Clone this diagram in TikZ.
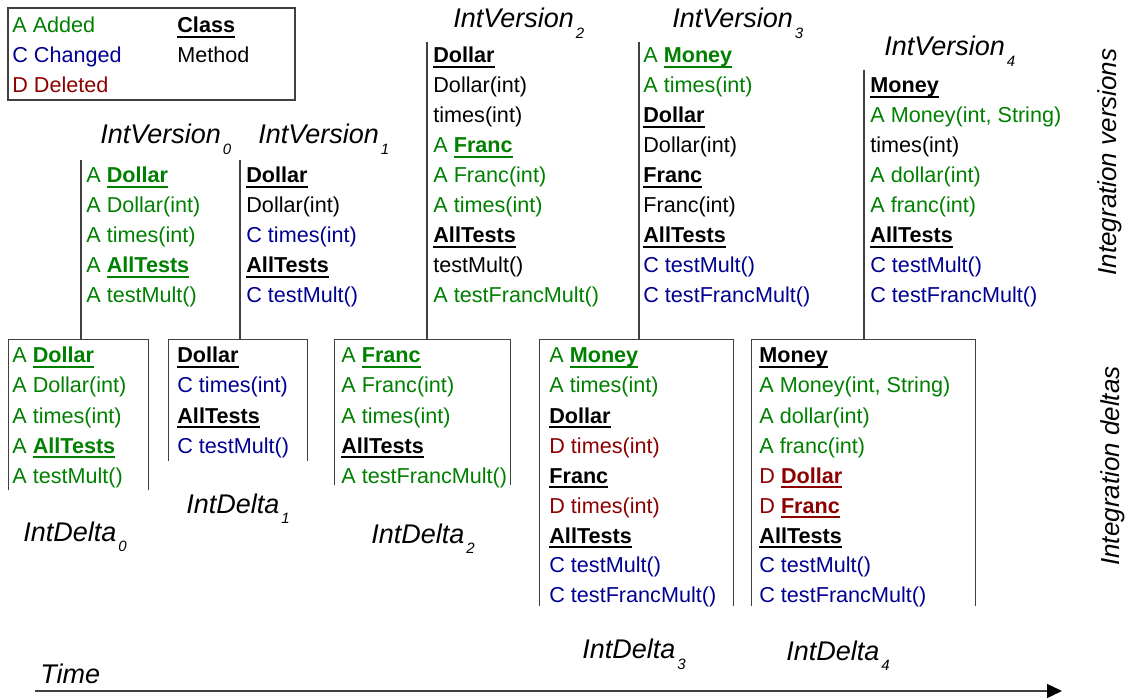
\documentclass[tikz,border=0pt]{standalone}
\usepackage{fontspec}
\setmainfont{Liberation Sans}
\usetikzlibrary{arrows.meta,fit}

\definecolor{addgreen}{RGB}{0,128,0}
\definecolor{chgblue}{RGB}{0,0,145}
\definecolor{delred}{RGB}{140,0,0}

\newcommand{\rowfont}{\fontsize{10.8}{12}\selectfont}
\newcommand{\clsn}[1]{\setbox0\hbox{\bfseries #1}\rlap{\rule[-2.4pt]{\wd0}{0.8pt}}\box0}
\newcommand{\addit}[1]{\textcolor{addgreen}{A\ #1}}
\newcommand{\chgit}[1]{\textcolor{chgblue}{C #1}}
\newcommand{\delit}[1]{\textcolor{delred}{D #1}}
\newcommand{\intlab}[2]{#1\hspace{1pt}\raisebox{-5.5pt}{\fontsize{7.5}{8}\selectfont #2}}

\begin{document}
\begin{tikzpicture}[x=0.5pt, y=-0.5pt,
	row/.style={anchor=base west, inner sep=0, font=\rowfont},
	frame/.style={draw=black!75, line width=0.7pt},
	lab/.style={anchor=base west, inner sep=0, font=\fontsize{13.5}{15}\selectfont\itshape},
	side/.style={inner sep=0, font=\fontsize{13}{15}\selectfont\itshape}]

\useasboundingbox (0,0) rectangle (1131,700);

% legend
\node[frame, fit={(8,8) (295,100)}, inner sep=0] (legend) {};
\node[row] (la) at (12,33) {\addit{Added}};
\node[row] (lc) at (12,63) {\chgit{Changed}};
\node[row] (ld) at (12,93) {\delit{Deleted}};
\node[row] (lcls) at (177,33) {\clsn{Class}};
\node[row] (lmeth) at (177,63) {Method};

% integration deltas
\node[fit={(9,340) (148,490)}, inner sep=0] (d0) {};
\node[fit={(169,340) (307,461)}, inner sep=0] (d1) {};
\node[fit={(335,340) (510,485)}, inner sep=0] (d2) {};
\node[fit={(540,340) (733,606)}, inner sep=0] (d3) {};
\node[fit={(752,340) (975,606)}, inner sep=0] (d4) {};
\foreach \d in {d0,d1,d2,d3,d4}{
	\draw[frame] (\d.south west) |- (\d.north east) -- (\d.south east);
}

\foreach [count=\i] \t in {
	\addit{\clsn{Dollar}}
	,\addit{Dollar(int)}
	,\addit{times(int)}
	,\addit{\clsn{AllTests}}
	,\addit{testMult()}
}{
	\node[row] (d0-\i) at (12,333+30*\i) {\t};
}

\foreach [count=\i] \t in {
	\clsn{Dollar}
	,\chgit{times(int)}
	,\clsn{AllTests}
	,\chgit{testMult()}
}{
	\node[row] (d1-\i) at (177,333+30*\i) {\t};
}

\foreach [count=\i] \t in {
	\addit{\clsn{Franc}}
	,\addit{Franc(int)}
	,\addit{times(int)}
	,\clsn{AllTests}
	,\addit{testFrancMult()}
}{
	\node[row] (d2-\i) at (341,333+30*\i) {\t};
}

\foreach [count=\i] \t in {
	\addit{\clsn{Money}}
	,\addit{times(int)}
	,\clsn{Dollar}
	,\delit{times(int)}
	,\clsn{Franc}
	,\delit{times(int)}
	,\clsn{AllTests}
	,\chgit{testMult()}
	,\chgit{testFrancMult()}
}{
	\node[row] (d3-\i) at (549,333+30*\i) {\t};
}

\foreach [count=\i] \t in {
	\clsn{Money}
	,{\addit{Money(int, String)}}
	,\addit{dollar(int)}
	,\addit{franc(int)}
	,\delit{\clsn{Dollar}}
	,\delit{\clsn{Franc}}
	,\clsn{AllTests}
	,\chgit{testMult()}
	,\chgit{testFrancMult()}
}{
	\node[row] (d4-\i) at (759,333+30*\i) {\t};
}

% integration versions
\coordinate (v0) at (81,160);
\coordinate (v1) at (240,160);
\coordinate (v2) at (427,42);
\coordinate (v3) at (639,42);
\coordinate (v4) at (864,70);
\foreach \v/\d in {v0/d0,v1/d1,v2/d2,v3/d3,v4/d4}{
	\draw[frame] (\v) -- (\v |- \d.north);
}

\foreach [count=\i] \t in {
	\addit{\clsn{Dollar}}
	,\addit{Dollar(int)}
	,\addit{times(int)}
	,\addit{\clsn{AllTests}}
	,\addit{testMult()}
}{
	\node[row] (v0-\i) at (86,153+30*\i) {\t};
}

\foreach [count=\i] \t in {
	\clsn{Dollar}
	,Dollar(int)
	,\chgit{times(int)}
	,\clsn{AllTests}
	,\chgit{testMult()}
}{
	\node[row] (v1-\i) at (246,153+30*\i) {\t};
}

\foreach [count=\i] \t in {
	\clsn{Dollar}
	,Dollar(int)
	,times(int)
	,\addit{\clsn{Franc}}
	,\addit{Franc(int)}
	,\addit{times(int)}
	,\clsn{AllTests}
	,testMult()
	,\addit{testFrancMult()}
}{
	\node[row] (v2-\i) at (433,33+30*\i) {\t};
}

\foreach [count=\i] \t in {
	\addit{\clsn{Money}}
	,\addit{times(int)}
	,\clsn{Dollar}
	,Dollar(int)
	,\clsn{Franc}
	,Franc(int)
	,\clsn{AllTests}
	,\chgit{testMult()}
	,\chgit{testFrancMult()}
}{
	\node[row] (v3-\i) at (643,33+30*\i) {\t};
}

\foreach [count=\i] \t in {
	\clsn{Money}
	,{\addit{Money(int, String)}}
	,times(int)
	,\addit{dollar(int)}
	,\addit{franc(int)}
	,\clsn{AllTests}
	,\chgit{testMult()}
	,\chgit{testFrancMult()}
}{
	\node[row] (v4-\i) at (870,63+30*\i) {\t};
}

% labels
\node[lab] (iv0) at (100,144) {\intlab{IntVersion}{0}};
\node[lab] (iv1) at (258,144) {\intlab{IntVersion}{1}};
\node[lab] (iv2) at (453,28) {\intlab{IntVersion}{2}};
\node[lab] (iv3) at (672,28) {\intlab{IntVersion}{3}};
\node[lab] (iv4) at (884,56) {\intlab{IntVersion}{4}};
\node[lab] (id0) at (23,541) {\intlab{IntDelta}{0}};
\node[lab] (id1) at (186,513) {\intlab{IntDelta}{1}};
\node[lab] (id2) at (371,543) {\intlab{IntDelta}{2}};
\node[lab] (id3) at (582,658) {\intlab{IntDelta}{3}};
\node[lab] (id4) at (786,660) {\intlab{IntDelta}{4}};

\node[side, rotate=90] (sidev) at (1110,162) {Integration versions};
\node[side, rotate=90] (sided) at (1113,466) {Integration deltas};

% time axis
\node[lab] (time) at (40,683) {Time};
\coordinate (t0) at (35,691);
\coordinate (t1) at (1062,691);
\draw[frame, -{Triangle[length=7.5pt,width=7pt,color=black]}] (t0) -- (t1);

\end{tikzpicture}
\end{document}
